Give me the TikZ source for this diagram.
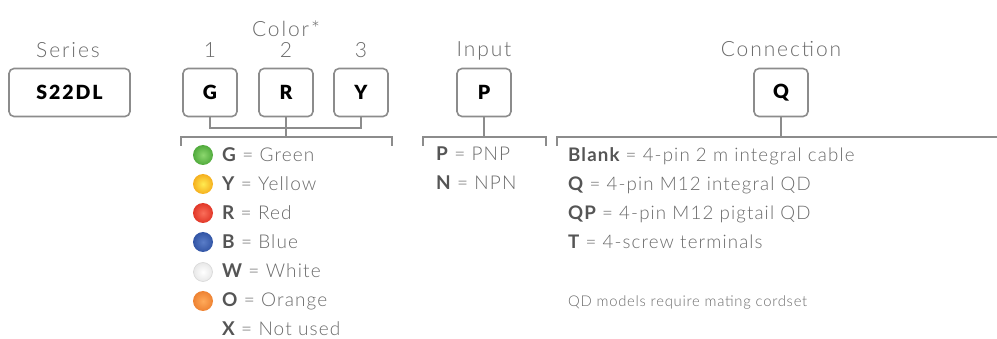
\documentclass[tikz,border=0pt]{standalone}
\usepackage{fontspec}
\setmainfont{Lato}[UprightFont=* Light, BoldFont=* Bold, LetterSpace=6]
\newfontfamily\hdrfont{Lato}[UprightFont=* Light, LetterSpace=9]
\newfontfamily\notefont{Lato}[UprightFont=* Light, LetterSpace=5]
\newfontfamily\heavyfont{Lato}[UprightFont=* Black, LetterSpace=10]
\definecolor{linegray}{HTML}{8C8C8C}
\definecolor{txtgray}{HTML}{6A6A6A}
\definecolor{boldgray}{HTML}{555555}
\begin{document}
\begin{tikzpicture}[x=1pt,y=-1pt,
  hdr/.style={anchor=base, text=txtgray, font=\hdrfont\fontsize{21}{21}\selectfont, inner sep=0pt},
  item/.style={anchor=base west, text=txtgray, font=\fontsize{19}{19}\selectfont, inner sep=0pt},
  citem/.style={anchor=base west, text=txtgray, font=\fontsize{18.7}{18.7}\selectfont, inner sep=0pt},
  note/.style={anchor=base west, text=txtgray, font=\notefont\fontsize{14.8}{14.8}\selectfont, inner sep=0pt},
  codebox/.style={draw=linegray, line width=1.6pt, rounded corners=5pt, minimum height=48pt, inner sep=0pt, font=\heavyfont\fontsize{19.5}{19.5}\selectfont, text=black},
  small/.style={codebox, minimum width=54pt},
  brk/.style={draw=linegray, line width=1.6pt},
  dot/.style={circle, minimum size=20pt, inner sep=0pt}
]
\useasboundingbox (0,0) rectangle (997,339);
\newcommand{\B}[1]{{\bfseries\color{boldgray}#1}}
% headers
\node[hdr] (hseries) at (68,58) {Series};
\node[hdr] (hcolor) at (286,37) {Color*};
\node[hdr] (h1) at (210,58) {1};
\node[hdr] (h2) at (286,58) {2};
\node[hdr] (h3) at (361,58) {3};
\node[hdr] (hinput) at (484,57) {Input};
\node[hdr] (hconn) at (781,57) {Connection};
% boxes
\node[codebox, minimum width=121pt] (series) at (69.5,92.5) {S22DL};
\node[small] (g) at (210,92.5) {G};
\node[small] (r) at (286,92.5) {R};
\node[small] (y) at (361,92.5) {Y};
\node[small] (p) at (484,92.5) {P};
\node[small] (q) at (781,92.5) {Q};
% color brackets
\coordinate (cl) at (181,146);
\coordinate (cla) at (181,137);
\coordinate (cm) at (286,137);
\coordinate (cra) at (392,137);
\coordinate (cr) at (392,146);
\draw[brk] (g.south) -- ++(0,11) -| (y.south);
\draw[brk] (r.south) -- (cm);
\draw[brk] (cl) -- (cla) -- (cra) -- (cr);
% input bracket
\coordinate (il) at (423,146);
\coordinate (ila) at (423,137);
\coordinate (im) at (484,137);
\coordinate (ira) at (546,137);
\coordinate (ir) at (546,146);
\draw[brk] (p.south) -- (im);
\draw[brk] (il) -- (ila) -- (ira) -- (ir);
% connection bracket
\coordinate (ql) at (557,146);
\coordinate (qla) at (557,137);
\coordinate (qm) at (781,137);
\coordinate (qra) at (998,137);
\draw[brk] (q.south) -- (qm);
\draw[brk] (ql) -- (qla) -- (qra);
% color dots
\node[dot, inner color={rgb,255:red,140;green,215;blue,110}, outer color={rgb,255:red,80;green,170;blue,60}] (dg) at (203,155) {};
\node[dot, inner color={rgb,255:red,255;green,235;blue,80}, outer color={rgb,255:red,245;green,175;blue,30}] (dy) at (203,184) {};
\node[dot, inner color={rgb,255:red,250;green,110;blue,90}, outer color={rgb,255:red,225;green,55;blue,40}] (dr) at (203,213) {};
\node[dot, inner color={rgb,255:red,90;green,125;blue,200}, outer color={rgb,255:red,50;green,85;blue,165}] (db) at (203,242) {};
\node[dot, inner color=white, outer color={rgb,255:red,232;green,232;blue,232}, draw={rgb,255:red,215;green,215;blue,215}, line width=0.6pt, minimum size=19pt] (dw) at (203,272) {};
\node[dot, inner color={rgb,255:red,255;green,170;blue,90}, outer color={rgb,255:red,238;green,130;blue,50}] (do) at (203,301) {};
% color list
\node[item] (tg) at (222,162) {\B{G} = Green};
\node[item] (ty) at (222,191) {\B{Y} = Yellow};
\node[item] (tr) at (222,220) {\B{R} = Red};
\node[item] (tb) at (222,249) {\B{B} = Blue};
\node[item] (tw) at (222,278) {\B{W} = White};
\node[item] (to) at (222,307) {\B{O} = Orange};
\node[item] (tx) at (222,335.5) {\B{X} = Not used};
% input list
\node[item] (tp) at (436,161) {\B{P} = PNP};
\node[item] (tn) at (436,190) {\B{N} = NPN};
% connection list
\node[citem] (t1) at (568,162) {\B{Blank} = 4-pin 2 m integral cable};
\node[citem] (t2) at (568,191) {\B{Q} = 4-pin M12 integral QD};
\node[citem] (t3) at (568,220) {\B{QP} = 4-pin M12 pigtail QD};
\node[citem] (t4) at (568,249) {\B{T} = 4-screw terminals};
\node[note] (tnote) at (568,307) {QD models require mating cordset};
\end{tikzpicture}
\end{document}
